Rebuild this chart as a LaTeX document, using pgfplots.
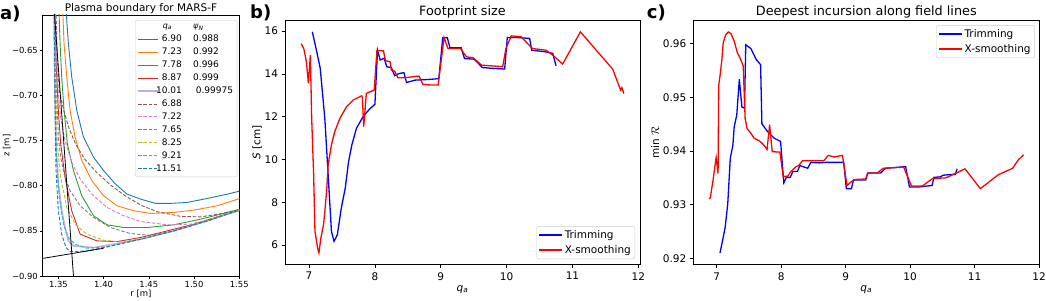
\documentclass[border=0pt]{standalone}
\usepackage{pgfplots}
\pgfplotsset{compat=1.18}
\usepackage{fontspec}
\setmainfont{DejaVu Sans}
\definecolor{c0}{HTML}{1F77B4}
\definecolor{c1}{HTML}{FF7F0E}
\definecolor{c2}{HTML}{2CA02C}
\definecolor{c3}{HTML}{D62728}
\definecolor{c4}{HTML}{9467BD}
\definecolor{c5}{HTML}{8C564B}
\definecolor{c6}{HTML}{E377C2}
\definecolor{c7}{HTML}{7F7F7F}
\definecolor{c8}{HTML}{BCBD22}
\definecolor{c9}{HTML}{17BECF}
\newcommand{\legent}[2]{\makebox[21pt][r]{#1}\hspace{11.3pt}#2}
\newcommand{\qa}{\textit{q}\textsubscript{\textit{a}}}
\begin{document}
\begin{tikzpicture}
\useasboundingbox (0pt,0pt) rectangle (1046pt,300pt);
% ---------------- panel a ----------------
\begin{axis}[
  at={(42.7pt,24pt)}, anchor=south west,
  scale only axis, width=196.6pt, height=261pt,
  xmin=1.3327, xmax=1.55, ymin=-0.90, ymax=-0.611,
  xtick={1.35,1.40,1.45,1.50,1.55},
  xticklabels={1.35,1.40,1.45,1.50,1.55},
  ytick={-0.90,-0.85,-0.80,-0.75,-0.70,-0.65},
  yticklabels={−0.90,−0.85,−0.80,−0.75,−0.70,−0.65},
  tick pos=left, tick align=outside, major tick length=2.7pt,
  tick style={black, line width=0.5pt},
  axis line style={line width=0.5pt},
  ticklabel style={font=\fontsize{8.4}{10}\selectfont, inner sep=2pt},
  title={Plasma boundary for MARS-F},
  title style={font=\fontsize{10.5}{12}\selectfont, at={(0.5,1)}, anchor=base, yshift=-2.5pt},
  xlabel={r [m]},
  xlabel style={font=\fontsize{8.5}{10}\selectfont, at={(rel axis cs:0.5,0)}, anchor=base, yshift=-20.5pt},
  ylabel={z [m]},
  ylabel style={font=\fontsize{8.5}{10}\selectfont, at={(rel axis cs:0,0.5)}, anchor=south, inner sep=0pt, yshift=32pt},
  legend style={at={(1,1)}, anchor=north east, xshift=-2pt, yshift=-5pt,
    draw=black!20, rounded corners=2pt, fill=white, fill opacity=0.8, text opacity=1,
    font=\fontsize{9}{10}\selectfont, inner sep=2pt, row sep=0.8pt},
  legend cell align=left,
  legend image code/.code={\draw[#1] (0pt,0pt) -- (20pt,0pt);},
]
\addlegendimage{empty legend}
\addlegendentry{\makebox[21pt][l]{\hspace{2pt}\fontsize{8}{9}\selectfont\qa}\hspace{11.3pt}{\fontsize{8}{9}\selectfont\textit{ψ}\textsubscript{\textit{N}}}}
\addplot[c0, line width=0.9pt] coordinates {(1.3585,-0.6056) (1.3611,-0.6426) (1.3648,-0.6796) (1.3704,-0.7167) (1.3778,-0.7463) (1.3889,-0.7685) (1.4000,-0.7833) (1.4130,-0.7981) (1.4259,-0.8093) (1.4407,-0.8148) (1.4574,-0.8196) (1.4741,-0.8196) (1.4926,-0.8185) (1.5148,-0.8141) (1.5370,-0.8093) (1.5519,-0.8056)};
\addlegendentry{\legent{6.90}{0.988}}
\addplot[c1, line width=0.9pt] coordinates {(1.3548,-0.6056) (1.3563,-0.6426) (1.3593,-0.6796) (1.3630,-0.7167) (1.3685,-0.7463) (1.3759,-0.7722) (1.3870,-0.7944) (1.4000,-0.8111) (1.4148,-0.8222) (1.4333,-0.8278) (1.4519,-0.8307) (1.4778,-0.8296) (1.5000,-0.8270) (1.5259,-0.8222) (1.5519,-0.8137)};
\addlegendentry{\legent{7.23}{0.992}}
\addplot[c2, line width=0.9pt] coordinates {(1.3507,-0.6056) (1.3519,-0.6426) (1.3537,-0.6796) (1.3563,-0.7167) (1.3600,-0.7537) (1.3667,-0.7833) (1.3759,-0.8111) (1.3889,-0.8333) (1.4037,-0.8433) (1.4222,-0.8463) (1.4481,-0.8463) (1.4778,-0.8433) (1.5074,-0.8370) (1.5370,-0.8296) (1.5519,-0.8259)};
\addlegendentry{\legent{7.78}{0.996}}
\addplot[c3, line width=0.9pt] coordinates {(1.3463,-0.6056) (1.3474,-0.6611) (1.3500,-0.7167) (1.3526,-0.7537) (1.3574,-0.7907) (1.3648,-0.8278) (1.3741,-0.8537) (1.3926,-0.8611) (1.4148,-0.8619) (1.4407,-0.8574) (1.4704,-0.8500) (1.5000,-0.8426) (1.5296,-0.8333) (1.5519,-0.8270)};
\addlegendentry{\legent{8.87}{0.999}}
\addplot[c4, opacity=0.55, line width=1.6pt] coordinates {(1.3452,-0.6056) (1.3459,-0.6796) (1.3474,-0.7537) (1.3500,-0.7981) (1.3537,-0.8278) (1.3574,-0.8463) (1.3611,-0.8611) (1.3667,-0.8667) (1.3889,-0.8685) (1.4111,-0.8648) (1.4407,-0.8593) (1.4778,-0.8500) (1.5148,-0.8389) (1.5519,-0.8263)};
\addlegendentry{\makebox[21pt][r]{10.01}\hspace{14pt}0.99975}
\addplot[c5, line width=0.9pt, dash pattern=on 3.5pt off 1.8pt] coordinates {(1.3474,-0.6056) (1.3489,-0.6611) (1.3511,-0.6944) (1.3560,-0.7167) (1.3620,-0.7370) (1.3690,-0.7537) (1.3790,-0.7704) (1.3920,-0.7850) (1.4080,-0.7995) (1.4250,-0.8120) (1.4420,-0.8220) (1.4600,-0.8290) (1.4852,-0.8340) (1.5074,-0.8345) (1.5296,-0.8310) (1.5519,-0.8259)};
\addlegendentry{\legent{6.88}{}}
\addplot[c6, line width=0.9pt, dash pattern=on 3.5pt off 1.8pt] coordinates {(1.3470,-0.6056) (1.3481,-0.6611) (1.3500,-0.6981) (1.3526,-0.7241) (1.3574,-0.7500) (1.3648,-0.7741) (1.3741,-0.7926) (1.3870,-0.8093) (1.4037,-0.8241) (1.4222,-0.8333) (1.4407,-0.8396) (1.4704,-0.8433) (1.4963,-0.8426) (1.5222,-0.8359) (1.5519,-0.8270)};
\addlegendentry{\legent{7.22}{}}
\addplot[c7, line width=0.9pt, dash pattern=on 3.5pt off 1.8pt] coordinates {(1.3467,-0.6056) (1.3474,-0.6796) (1.3500,-0.7463) (1.3526,-0.7685) (1.3563,-0.7870) (1.3630,-0.8056) (1.3741,-0.8222) (1.3889,-0.8352) (1.4074,-0.8463) (1.4296,-0.8530) (1.4519,-0.8550) (1.4778,-0.8500) (1.5074,-0.8407) (1.5519,-0.8265)};
\addlegendentry{\legent{7.65}{}}
\addplot[c8, line width=0.9pt, dash pattern=on 3.5pt off 1.8pt] coordinates {(1.3463,-0.6056) (1.3470,-0.6796) (1.3489,-0.7537) (1.3526,-0.7907) (1.3593,-0.8241) (1.3685,-0.8426) (1.3815,-0.8537) (1.4000,-0.8604) (1.4185,-0.8622) (1.4407,-0.8593) (1.4778,-0.8500) (1.5148,-0.8389) (1.5519,-0.8263)};
\addlegendentry{\legent{8.25}{}}
\addplot[c9, line width=0.9pt, dash pattern=on 3.5pt off 1.8pt] coordinates {(1.3459,-0.6056) (1.3467,-0.7167) (1.3481,-0.7722) (1.3511,-0.8130) (1.3556,-0.8426) (1.3611,-0.8574) (1.3685,-0.8648) (1.3815,-0.8693) (1.4037,-0.8678) (1.4407,-0.8593) (1.4778,-0.8500) (1.5148,-0.8389) (1.5519,-0.8263)};
\addlegendentry{\legent{9.21}{}}
\addplot[c0, line width=0.9pt, dash pattern=on 3.5pt off 1.8pt] coordinates {(1.3456,-0.6056) (1.3463,-0.7167) (1.3474,-0.7833) (1.3500,-0.8278) (1.3537,-0.8537) (1.3585,-0.8685) (1.3630,-0.8730) (1.3815,-0.8722) (1.4037,-0.8678) (1.4407,-0.8593) (1.4778,-0.8500) (1.5148,-0.8389) (1.5519,-0.8263)};
\addlegendentry{\legent{11.51}{}}
\addplot[black, line width=0.8pt, forget plot] coordinates {(1.3450,-0.600) (1.3667,-0.900)};
\addplot[black, line width=0.8pt, forget plot] coordinates {(1.3300,-0.8810) (1.4000,-0.8693)};
\end{axis}
% ---------------- panel b ----------------
\begin{axis}[
  at={(285pt,36pt)}, anchor=south west,
  scale only axis, width=355pt, height=243.3pt,
  xmin=6.635, xmax=12.025, ymin=5.11, ymax=16.49,
  xtick={7,8,9,10,11,12}, ytick={6,8,10,12,14,16},
  tick pos=left, tick align=outside, major tick length=3.5pt,
  tick style={black, line width=0.7pt},
  axis line style={line width=0.7pt},
  /pgf/number format/assume math mode=true,
  ticklabel style={font=\fontsize{10.5}{12}\selectfont},
  xticklabel style={yshift=-1.3pt},
  title={Footprint size},
  title style={font=\fontsize{12.8}{14}\selectfont, at={(0.5,1)}, anchor=base, yshift=-0.5pt},
  xlabel={\qa},
  xlabel style={font=\fontsize{10.5}{12}\selectfont, at={(rel axis cs:0.5,0)}, anchor=base, yshift=-27pt},
  ylabel={\textit{S} [cm]},
  ylabel style={font=\fontsize{10.5}{12}\selectfont, at={(rel axis cs:0,0.5)}, anchor=south, inner sep=0pt, yshift=23pt},
  legend style={at={(1,0)}, anchor=south east, xshift=-5pt, yshift=5pt,
    draw=black!20, rounded corners=2pt, fill=white, fill opacity=0.8, text opacity=1,
    font=\fontsize{10.5}{12}\selectfont, inner sep=2pt, row sep=1.5pt},
  legend cell align=left,
  legend image code/.code={\draw[#1] (0pt,0pt) -- (23pt,0pt);},
]
\addplot[blue, line width=1.3pt] coordinates {(7.05,15.97) (7.12,15.0) (7.17,14.26) (7.24,11.9) (7.29,9.28) (7.34,6.64) (7.38,6.17) (7.43,6.48) (7.49,7.73) (7.55,8.66) (7.60,9.90) (7.65,10.68) (7.72,11.46) (7.82,12.0) (7.92,12.36) (8.0,12.58) (8.04,15.11) (8.08,14.65) (8.14,14.73) (8.18,14.34) (8.25,14.29) (8.30,13.92) (8.37,14.02) (8.44,14.06) (8.48,13.6) (8.61,13.71) (8.81,13.74) (8.97,13.78) (9.03,15.69) (9.10,15.69) (9.14,15.22) (9.31,15.22) (9.36,14.72) (9.51,14.69) (9.63,14.30) (9.79,14.26) (9.97,14.23) (10.01,15.70) (10.17,15.70) (10.35,15.66) (10.38,15.11) (10.58,15.04) (10.70,14.96) (10.75,14.38)};
\addlegendentry{Trimming}
\addplot[red, line width=1.3pt] coordinates {(6.88,15.42) (6.92,15.19) (6.96,14.57) (6.99,13.56) (7.02,14.88) (7.04,11.93) (7.07,9.28) (7.09,6.64) (7.13,5.86) (7.15,5.63) (7.18,6.33) (7.22,6.95) (7.24,7.57) (7.27,8.66) (7.29,9.75) (7.34,10.68) (7.39,11.30) (7.47,11.93) (7.57,12.47) (7.67,12.78) (7.80,12.98) (7.81,12.86) (7.83,11.54) (7.87,13.09) (7.99,13.25) (8.03,15.08) (8.13,15.08) (8.16,14.62) (8.23,14.57) (8.25,14.18) (8.30,14.13) (8.35,13.82) (8.45,13.82) (8.67,13.90) (8.73,13.51) (8.86,13.48) (8.96,13.48) (9.05,15.70) (9.11,15.19) (9.30,15.19) (9.39,14.80) (9.49,14.76) (9.62,14.41) (9.94,14.34) (9.99,15.19) (10.07,15.78) (10.22,15.74) (10.39,15.19) (10.60,15.11) (10.70,14.88) (10.85,14.46) (11.12,15.97) (11.38,15.04) (11.61,14.23) (11.73,13.25) (11.75,13.36) (11.78,13.08)};
\addlegendentry{X-smoothing}
\end{axis}
% ---------------- panel c ----------------
\begin{axis}[
  at={(693.3pt,35.7pt)}, anchor=south west,
  scale only axis, width=346pt, height=243.6pt,
  xmin=6.636, xmax=12.004, ymin=0.9189, ymax=0.9643,
  xtick={7,8,9,10,11,12}, ytick={0.92,0.93,0.94,0.95,0.96},
  scaled y ticks=false,
  yticklabel style={/pgf/number format/.cd, fixed, fixed zerofill, precision=2},
  tick pos=left, tick align=outside, major tick length=3.5pt,
  tick style={black, line width=0.7pt},
  axis line style={line width=0.7pt},
  /pgf/number format/assume math mode=true,
  ticklabel style={font=\fontsize{10.5}{12}\selectfont},
  xticklabel style={yshift=-1.3pt},
  title={Deepest incursion along field lines},
  title style={font=\fontsize{12.8}{14}\selectfont, at={(0.5,1)}, anchor=base, yshift=-0.5pt},
  xlabel={\qa},
  xlabel style={font=\fontsize{10.5}{12}\selectfont, at={(rel axis cs:0.5,0)}, anchor=base, yshift=-27pt},
  ylabel={min $\mathcal{R}$},
  ylabel style={font=\fontsize{10.5}{12}\selectfont, at={(rel axis cs:0,0.5)}, anchor=south, inner sep=0pt, yshift=34pt},
  legend style={at={(1,1)}, anchor=north east, xshift=-4.5pt, yshift=-4.5pt,
    draw=black!20, rounded corners=2pt, fill=white, fill opacity=0.8, text opacity=1,
    font=\fontsize{10.5}{12}\selectfont, inner sep=2pt, row sep=1.5pt},
  legend cell align=left,
  legend image code/.code={\draw[#1] (0pt,0pt) -- (23pt,0pt);},
]
\addplot[blue, line width=1.3pt] coordinates {(7.05,0.9210) (7.09,0.9233) (7.13,0.9258) (7.17,0.9301) (7.21,0.9387) (7.25,0.9411) (7.27,0.9445) (7.31,0.9467) (7.35,0.9534) (7.39,0.9482) (7.43,0.9480) (7.45,0.9598) (7.53,0.9591) (7.61,0.9571) (7.68,0.9561) (7.70,0.9451) (7.79,0.9436) (7.89,0.9424) (7.99,0.9418) (8.04,0.9341) (8.08,0.9351) (8.14,0.9351) (8.18,0.9362) (8.25,0.9362) (8.29,0.9373) (8.41,0.9368) (8.46,0.9379) (8.59,0.9378) (8.69,0.9379) (8.97,0.9379) (9.01,0.9330) (9.09,0.9330) (9.12,0.9346) (9.31,0.9346) (9.34,0.9359) (9.54,0.9359) (9.62,0.9368) (9.93,0.9371) (9.99,0.9333) (10.13,0.9333) (10.34,0.9336) (10.37,0.9351) (10.47,0.9352) (10.51,0.9355) (10.70,0.9357) (10.73,0.9367)};
\addlegendentry{Trimming}
\addplot[red, line width=1.3pt] coordinates {(6.88,0.9311) (6.90,0.9313) (6.94,0.9344) (6.99,0.9388) (7.02,0.9358) (7.03,0.9522) (7.05,0.9540) (7.08,0.9571) (7.10,0.9602) (7.14,0.9617) (7.18,0.9622) (7.22,0.9619) (7.27,0.9605) (7.32,0.9583) (7.36,0.9574) (7.41,0.9559) (7.44,0.9461) (7.47,0.9442) (7.53,0.9433) (7.58,0.9424) (7.66,0.9419) (7.71,0.9414) (7.75,0.9408) (7.78,0.9403) (7.82,0.9449) (7.86,0.9399) (7.98,0.9398) (8.03,0.9353) (8.10,0.9353) (8.15,0.9362) (8.23,0.9371) (8.27,0.9373) (8.33,0.9382) (8.66,0.9382) (8.73,0.9392) (8.82,0.9389) (8.95,0.9392) (9.02,0.9336) (9.13,0.9347) (9.31,0.9348) (9.35,0.9359) (9.49,0.9359) (9.58,0.9368) (9.90,0.9370) (10.02,0.9335) (10.19,0.9335) (10.35,0.9349) (10.55,0.9350) (10.68,0.9357) (10.85,0.9367) (11.09,0.9330) (11.37,0.9356) (11.59,0.9368) (11.68,0.9384) (11.76,0.9393)};
\addlegendentry{X-smoothing}
\end{axis}
% panel letters
\node[anchor=base west, inner sep=0pt, font=\bfseries\fontsize{18}{20}\selectfont] at (0pt,280pt) {a)};
\node[anchor=base west, inner sep=0pt, font=\bfseries\fontsize{18}{20}\selectfont] at (250pt,281pt) {b)};
\node[anchor=base west, inner sep=0pt, font=\bfseries\fontsize{18}{20}\selectfont] at (646.7pt,281pt) {c)};
\end{tikzpicture}
\end{document}
